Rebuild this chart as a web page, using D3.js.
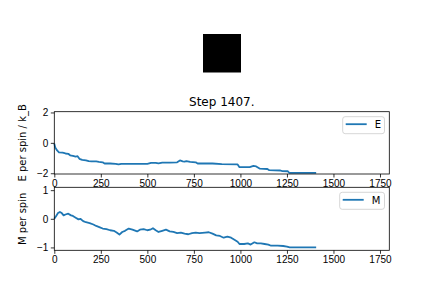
<!DOCTYPE html>
<html>
<head>
<meta charset="utf-8">
<script src="https://cdn.jsdelivr.net/npm/d3@7"></script>
<style>
  html, body { margin: 0; padding: 0; background: #fff; }
  svg { display: block; font-family: 'DejaVu Sans', sans-serif; }
  .axis path, .axis line { stroke: #000; stroke-width: 0.8; }
  .axis text { font-size: 10px; fill: #000; }
</style>
</head>
<body>
<svg id="chart" width="432" height="286"></svg>
<script>
(function () {
  'use strict';

  // energy per spin vs step
  const energyStep = [0, 5, 15, 25, 45, 60, 75, 85, 100, 115, 125, 135, 150, 170, 185, 200, 225, 240, 260, 270,
    300, 330, 345, 360, 400, 450, 500, 520, 545, 560, 580, 620, 660, 675, 690, 700, 710, 730, 760, 770,
    850, 900, 985, 995, 1050, 1070, 1085, 1105, 1145, 1155, 1215, 1225, 1255, 1262, 1407];
  const energyVal = [-0.05, -0.3, -0.5, -0.62, -0.65, -0.7, -0.72, -0.82, -0.85, -0.9, -0.88, -1.05, -1.12, -1.15, -1.2, -1.22, -1.22, -1.25, -1.28, -1.36,
    -1.36, -1.38, -1.42, -1.38, -1.38, -1.38, -1.38, -1.32, -1.32, -1.35, -1.3, -1.3, -1.28, -1.16, -1.22, -1.24, -1.2, -1.25, -1.28, -1.36,
    -1.36, -1.4, -1.42, -1.6, -1.6, -1.52, -1.55, -1.7, -1.72, -1.8, -1.82, -1.86, -1.87, -1.97, -1.97];

  // magnetisation per spin vs step
  const magStep = [0, 10, 20, 30, 40, 50, 60, 75, 90, 100, 115, 130, 140, 155, 170, 190, 210, 225, 245, 260,
    280, 300, 320, 335, 350, 365, 380, 400, 420, 445, 460, 480, 500, 515, 530, 545, 560, 580, 600, 620,
    640, 660, 680, 700, 720, 740, 760, 780, 810, 830, 850, 870, 890, 910, 930, 950, 970, 985, 995, 1020,
    1040, 1055, 1075, 1090, 1110, 1130, 1150, 1165, 1200, 1230, 1250, 1265, 1407];
  const magVal = [0, 0.1, 0.2, 0.24, 0.2, 0.12, 0.15, 0.18, 0.12, 0.1, 0.04, -0.02, 0, -0.08, -0.12, -0.15, -0.2, -0.25, -0.3, -0.34,
    -0.36, -0.4, -0.42, -0.48, -0.55, -0.46, -0.42, -0.34, -0.38, -0.44, -0.38, -0.36, -0.4, -0.38, -0.33, -0.4, -0.46, -0.42, -0.38, -0.44,
    -0.46, -0.5, -0.48, -0.52, -0.54, -0.5, -0.48, -0.5, -0.48, -0.47, -0.52, -0.58, -0.6, -0.66, -0.62, -0.66, -0.74, -0.8, -0.88, -0.88,
    -0.86, -0.9, -0.82, -0.86, -0.86, -0.88, -0.9, -0.94, -0.94, -0.95, -0.97, -1, -1];

  const xTicks = [0, 250, 500, 750, 1000, 1250, 1500, 1750];
  const energyTicks = [-2, 0, 2];
  const magTicks = [-1, 0, 1];
  const titleText = 'Step 1407.';

  const blue = '#1f77b4';
  const svg = d3.select('#chart');

  const x = d3.scaleLinear().domain([0, 1800]).range([54.3, 389.3]);

  // lattice snapshot (all spins aligned -> solid black)
  svg.append('rect')
    .attr('x', 203).attr('y', 34).attr('width', 38).attr('height', 38.5)
    .attr('fill', '#000');

  function panel(opts) {
    const y = d3.scaleLinear().domain(opts.domain).range([opts.bottom, opts.top]);
    const g = svg.append('g');

    const pts = opts.xs.map((s, i) => [s, opts.ys[i]]);
    g.append('path')
      .datum(pts)
      .attr('fill', 'none')
      .attr('stroke', blue)
      .attr('stroke-width', 1.8)
      .attr('stroke-linejoin', 'round')
      .attr('d', d3.line().x(d => x(d[0])).y(d => y(d[1])));

    g.append('rect')
      .attr('x', x.range()[0]).attr('y', opts.top)
      .attr('width', x.range()[1] - x.range()[0])
      .attr('height', opts.bottom - opts.top)
      .attr('fill', 'none').attr('stroke', '#000').attr('stroke-width', 0.8);

    g.append('g').attr('class', 'axis')
      .attr('transform', `translate(0,${opts.bottom})`)
      .call(d3.axisBottom(x).tickValues(xTicks).tickSize(3.5).tickPadding(2.5).tickFormat(d3.format('d')))
      .call(s => s.select('.domain').remove());

    g.append('g').attr('class', 'axis')
      .attr('transform', `translate(${x.range()[0]},0)`)
      .call(d3.axisLeft(y).tickValues(opts.ticks).tickSize(3.5).tickPadding(2.5)
        .tickFormat(d => d < 0 ? '\u2212' + Math.abs(d) : String(d)))
      .call(s => s.select('.domain').remove());

    const cy = (opts.top + opts.bottom) / 2;
    g.append('text')
      .attr('transform', `translate(26,${cy}) rotate(-90)`)
      .attr('text-anchor', 'middle')
      .attr('font-size', 10)
      .text(opts.label);

    // legend
    const lg = g.append('g');
    lg.append('rect')
      .attr('x', opts.legendX).attr('y', opts.top + 5)
      .attr('width', 384.5 - opts.legendX).attr('height', 17)
      .attr('rx', 2.5)
      .attr('fill', '#fff').attr('fill-opacity', 0.8)
      .attr('stroke', '#ccc').attr('stroke-width', 0.8);
    lg.append('line')
      .attr('x1', opts.legendX + 3).attr('x2', opts.legendX + 24)
      .attr('y1', opts.top + 12.5).attr('y2', opts.top + 12.5)
      .attr('stroke', blue).attr('stroke-width', 1.8);
    lg.append('text')
      .attr('x', opts.legendX + 32).attr('y', opts.top + 16.5)
      .attr('font-size', 10)
      .text(opts.name);
  }

  panel({ xs: energyStep, ys: energyVal, domain: [-2.05, 2.05], top: 111.7, bottom: 174,
    ticks: energyTicks, label: 'E per spin / k_B', name: 'E', legendX: 342.7 });
  panel({ xs: magStep, ys: magVal, domain: [-1.1, 1.1], top: 187.3, bottom: 250.3,
    ticks: magTicks, label: 'M per spin', name: 'M', legendX: 339.7 });

  svg.append('text')
    .attr('x', 221.8).attr('y', 105.5)
    .attr('text-anchor', 'middle')
    .attr('font-size', 12)
    .text(titleText);
})();
</script>
</body>
</html>
